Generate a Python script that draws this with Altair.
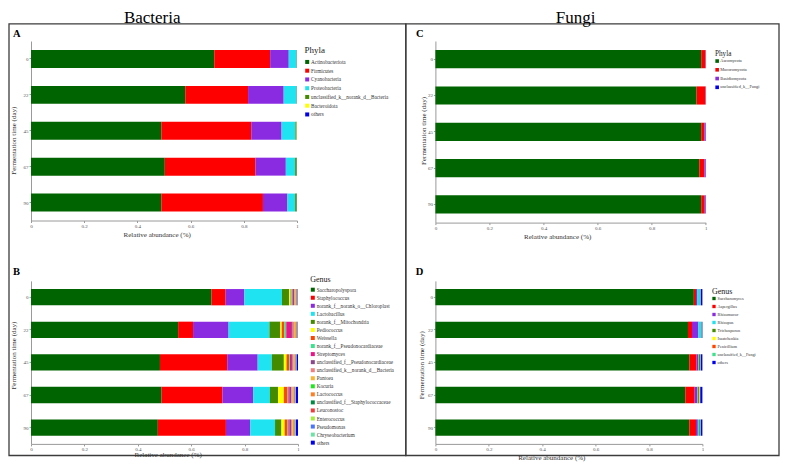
import altair as alt
import pandas as pd

FONT = "Liberation Serif"

DAYS = ["0", "22", "45", "67", "90"]
X_TICKS = [0, 0.2, 0.4, 0.6, 0.8, 1]
SECTION_TITLES = ["Bacteria", "Fungi"]
PANEL_LETTERS = ["A", "B", "C", "D"]
X_TITLE = "Relative abundance (%)"
Y_TITLE = "Fermentation time (day)"

# ---- Panel A: bacterial phyla ----
A_TAXA = ["Actinobacteriota", "Firmicutes", "Cyanobacteria", "Proteobacteria",
          "unclassified_k__norank_d__Bacteria", "Bacteroidota", "others"]
A_COLORS = ["#006400", "#FF0000", "#8A2BE2", "#1FE3F0", "#458B00", "#FFFF00", "#0000EE"]
A_VALUES = [
    [0.689, 0.210, 0.070, 0.029, 0.001, 0.0005, 0.0005],
    [0.580, 0.236, 0.134, 0.048, 0.001, 0.0005, 0.0005],
    [0.490, 0.338, 0.114, 0.052, 0.004, 0.0015, 0.0005],
    [0.503, 0.341, 0.114, 0.035, 0.006, 0.0005, 0.0005],
    [0.490, 0.382, 0.092, 0.029, 0.006, 0.0005, 0.0005],
]

# ---- Panel B: bacterial genera ----
B_TAXA = ["Saccharopolyspora", "Staphylococcus", "norank_f__norank_o__Chloroplast",
          "Lactobacillus", "norank_f__Mitochondria", "Pediococcus", "Weissella",
          "norank_f__Pseudonocardiaceae", "Streptomyces",
          "unclassified_f__Pseudonocardiaceae", "unclassified_k__norank_d__Bacteria",
          "Pantoea", "Kocuria", "Lactococcus", "unclassified_f__Staphylococcaceae",
          "Leuconostoc", "Enterococcus", "Pseudomonas", "Chryseobacterium", "others"]
B_COLORS = ["#006400", "#FF0000", "#8A2BE2", "#1FE3F0", "#458B00", "#FFFF00", "#FF4500",
            "#3CE38F", "#EE1289", "#8B4789", "#F08080", "#F7B531", "#1EE81E", "#FF7F24",
            "#008B45", "#EE3B3B", "#A2EE3A", "#4876FF", "#6FE3A6", "#0000EE"]
B_VALUES = [
    [0.676, 0.053, 0.070, 0.141, 0.027, 0.005, 0.003, 0.004, 0.002, 0.004,
     0.003, 0.002, 0.001, 0.002, 0.001, 0.002, 0.001, 0.001, 0.001, 0.001],
    [0.551, 0.056, 0.133, 0.153, 0.041, 0.005, 0.010, 0.007, 0.018, 0.006,
     0.005, 0.004, 0.001, 0.003, 0.001, 0.002, 0.001, 0.001, 0.001, 0.001],
    [0.483, 0.252, 0.114, 0.053, 0.045, 0.010, 0.010, 0.003, 0.004, 0.006,
     0.004, 0.002, 0.001, 0.002, 0.001, 0.002, 0.001, 0.001, 0.001, 0.005],
    [0.489, 0.228, 0.115, 0.063, 0.030, 0.022, 0.014, 0.003, 0.005, 0.006,
     0.005, 0.002, 0.001, 0.003, 0.001, 0.002, 0.001, 0.001, 0.001, 0.008],
    [0.475, 0.255, 0.091, 0.093, 0.024, 0.012, 0.011, 0.003, 0.004, 0.006,
     0.005, 0.002, 0.001, 0.003, 0.001, 0.002, 0.002, 0.001, 0.001, 0.008],
]

# ---- Panel C: fungal phyla ----
C_TAXA = ["Ascomycota", "Mucoromycota", "Basidiomycota", "unclassified_k__Fungi"]
C_COLORS = ["#006400", "#FF0000", "#8A2BE2", "#0000EE"]
C_VALUES = [
    [0.983, 0.016, 0.0007, 0.0003],
    [0.966, 0.033, 0.0007, 0.0003],
    [0.983, 0.012, 0.004, 0.001],
    [0.976, 0.019, 0.004, 0.001],
    [0.983, 0.013, 0.003, 0.001],
]

# ---- Panel D: fungal genera ----
D_TAXA = ["Saccharomyces", "Aspergillus", "Rhizomucor", "Rhizopus", "Trichosporon",
          "Issatchenkia", "Penicillium", "unclassified_k__Fungi", "others"]
D_COLORS = ["#006400", "#FF0000", "#8A2BE2", "#1FE3F0", "#458B00", "#FFFF00",
            "#FF4500", "#3CE38F", "#0000EE"]
D_VALUES = [
    [0.968, 0.008, 0.004, 0.010, 0.001, 0.001, 0.001, 0.001, 0.006],
    [0.946, 0.015, 0.024, 0.010, 0.001, 0.0005, 0.0005, 0.0005, 0.0025],
    [0.951, 0.027, 0.007, 0.002, 0.004, 0.001, 0.001, 0.001, 0.006],
    [0.936, 0.035, 0.010, 0.002, 0.004, 0.003, 0.001, 0.001, 0.008],
    [0.951, 0.025, 0.007, 0.005, 0.003, 0.001, 0.001, 0.001, 0.006],
]


def long_df(taxa, values):
    rows = []
    for d, vals in zip(DAYS, values):
        for i, (t, v) in enumerate(zip(taxa, vals)):
            rows.append({"day": d, "taxon": t, "value": v, "idx": i})
    return pd.DataFrame(rows)


def bars(taxa, values, colors, w, h, leg, xt, yt):
    df = long_df(taxa, values)
    return alt.Chart(df).mark_bar().encode(
        x=alt.X("value:Q", stack="zero",
                scale=alt.Scale(domain=[0, 1], nice=False),
                axis=alt.Axis(values=X_TICKS, format="~g", title=X_TITLE,
                              labelFlush=False, titleX=xt[0], titleY=xt[1],
                              titleAlign="center", titleBaseline="middle")),
        y=alt.Y("day:N", sort=DAYS,
                scale=alt.Scale(paddingInner=0.5, paddingOuter=0.25),
                axis=alt.Axis(title=Y_TITLE, labelAngle=0, titleX=yt[0], titleY=yt[1],
                              titleAngle=270, titleAlign="center",
                              titleBaseline="middle")),
        color=alt.Color("taxon:N", scale=alt.Scale(domain=taxa, range=colors),
                        legend=alt.Legend(title=leg["title"], orient="none",
                                          direction="vertical",
                                          legendX=leg["x"], legendY=leg["y"],
                                          titleFontSize=leg["tfs"],
                                          labelFontSize=leg["lfs"],
                                          symbolSize=leg["ss"],
                                          rowPadding=leg["rp"],
                                          titlePadding=leg["tp"],
                                          labelOffset=leg["lo"])),
        order=alt.Order("idx:Q"),
    ).properties(width=w, height=h)


def text_layer(txt, x, y, size, weight="normal", align="left"):
    return alt.Chart(pd.DataFrame({"t": [txt]})).mark_text(
        font=FONT, fontSize=size, fontWeight=weight, align=align,
        baseline="alphabetic", color="black"
    ).encode(x=alt.value(x), y=alt.value(y), text="t:N")


def rect_layer(x, x2, y, y2, stroke=True):
    if stroke:
        mk = alt.Chart(pd.DataFrame({"k": [0]})).mark_rect(
            fill="white", fillOpacity=0, stroke="#3c3c3c", strokeWidth=1.3)
    else:
        mk = alt.Chart(pd.DataFrame({"k": [0]})).mark_rect(
            fill="white", fillOpacity=0, strokeWidth=0)
    return mk.encode(x=alt.value(x), x2=alt.value(x2), y=alt.value(y), y2=alt.value(y2))


# Panel A (with frames and section titles)
barsA = bars(A_TAXA, A_VALUES, A_COLORS, 266, 179.5,
             dict(title="Phyla", x=273.6, y=5.35, tfs=9, lfs=5.2, ss=16, rp=2.75, tp=4.0, lo=1.3),
             (125.7, 14.2), (-17.1, 99.2))
panelA = alt.layer(
    rect_layer(-23, 749, -31.5, 420.5, stroke=False),
    rect_layer(-22, 374.8, -17.2, 414.5),
    rect_layer(374.8, 748, -17.2, 414.5),
    text_layer(SECTION_TITLES[0], 121.2, -18.3, 17, align="center"),
    text_layer(SECTION_TITLES[1], 544.7, -18.3, 17, align="center"),
    text_layer(PANEL_LETTERS[0], -18.1, -3.9, 10.5, "bold"),
    barsA,
)

barsB = bars(B_TAXA, B_VALUES, B_COLORS, 267, 163,
             dict(title="Genus", x=279.2, y=-4.8, tfs=8, lfs=5.2, ss=16, rp=2.05, tp=3.0, lo=1.3),
             (136.7, 11), (-17.4, 74.2))
panelB = alt.layer(text_layer(PANEL_LETTERS[1], -18.1, -5.5, 10.5, "bold"), barsB)

barsC = bars(C_TAXA, C_VALUES, C_COLORS, 270.4, 181.6,
             dict(title="Phyla", x=279.6, y=8.9, tfs=7.2, lfs=4.3, ss=13, rp=3.75, tp=1.8, lo=1.0),
             (121.8, 14.1), (-12.1, 89.4))
panelC = alt.layer(text_layer(PANEL_LETTERS[2], -19.3, -3.9, 10.5, "bold"), barsC)

barsD = bars(D_TAXA, D_VALUES, D_COLORS, 267, 163,
             dict(title="Genus", x=276.5, y=6.6, tfs=8, lfs=4.2, ss=11, rp=3.0, tp=0.9, lo=1.5),
             (115.9, 13.5), (-13.7, 83.9))
panelD = alt.layer(text_layer(PANEL_LETTERS[3], -19.6, -5.5, 10.5, "bold"), barsD)

chart = alt.concat(
    panelA, panelC, panelB, panelD,
    columns=2, spacing={"row": 57.9, "column": 137.4}, bounds="flush",
).resolve_scale(
    color="independent", x="independent", y="independent"
).properties(
    padding=0, background="white"
).configure_view(
    strokeWidth=0
).configure_axis(
    labelFont=FONT, titleFont=FONT, labelFontSize=5, titleFontSize=7,
    labelColor="#555555", titleColor="#333333", titleFontWeight="normal",
    domainColor="#9a9a9a", tickColor="#9a9a9a", domainWidth=1, tickWidth=1,
    tickSize=2, labelPadding=1, grid=False,
).configure_legend(
    labelFont=FONT, titleFont=FONT, titleFontWeight="normal",
    titleColor="#222222", labelColor="#333333", symbolType="square",
    symbolStrokeWidth=0, padding=0, labelLimit=300, titleAnchor="start",
)

chart.save("out.html", embed_options={"renderer": "svg", "actions": False})
